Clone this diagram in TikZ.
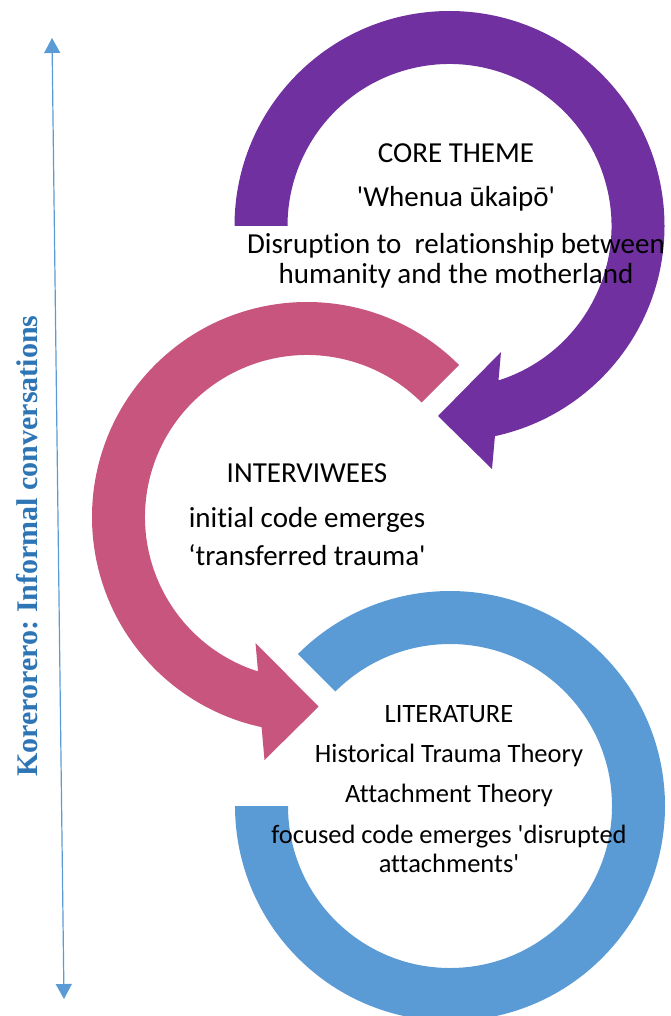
\documentclass[tikz,border=0pt]{standalone}
\usepackage{fontspec}
\newfontfamily\bodyfont{Carlito}[Ligatures={NoCommon}]
\newfontfamily\axisfont{Liberation Serif}
\usetikzlibrary{arrows.meta}
\definecolor{corepurple}{RGB}{112,48,160}
\definecolor{interpink}{RGB}{200,85,126}
\definecolor{litblue}{RGB}{91,155,213}
\definecolor{axisblue}{RGB}{46,117,182}

\begin{document}
\begin{tikzpicture}[x=1pt,y=1pt,line join=round,
  txt/.style={anchor=base,inner sep=0pt,font=\bodyfont\fontsize{29}{30}\selectfont},
  littxt/.style={anchor=base,inner sep=0pt,font=\bodyfont\fontsize{26.5}{27}\selectfont}]
  \useasboundingbox (0,0) rectangle (670,-1016);
  \coordinate (P) at (449.5,-226);
  \coordinate (K) at (307,-517);
  \coordinate (B) at (450,-806);
  \fill[corepurple] ([shift={(180:215)}]P) arc[start angle=180,end angle=-77.8,radius=215]
    -- (492,-469) -- (438,-416) -- (501,-352) -- ([shift={(-72.4:162)}]P)
    arc[start angle=-72.4,end angle=180,radius=162] -- cycle;
  \fill[interpink] ([shift={(45:215)}]K) arc[start angle=45,end angle=257.8,radius=215]
    -- (264.5,-760) -- (318.6,-706.6) -- (255.5,-643) -- ([shift={(252.4:162)}]K)
    arc[start angle=252.4,end angle=45,radius=162] -- cycle;
  \fill[litblue] ([shift={(135:215)}]B) arc[start angle=135,end angle=-180,radius=215]
    -- ([shift={(180:162)}]B) arc[start angle=-180,end angle=135,radius=162] -- cycle;
  \coordinate (axtop) at (52,-38);
  \coordinate (axbot) at (64,-999);
  \draw[litblue,line width=1.2pt,{Triangle[width=16pt,length=15pt]}-{Triangle[width=16pt,length=15pt]}] (axtop) -- (axbot);
  \node[rotate=90,inner sep=0pt,text=axisblue,font=\axisfont\bfseries\fontsize{30}{31}\selectfont] (convo) at (27,-546) {Korerorero:\ Informal conversations};
  \node[txt] (core) at (456,-163) {CORE THEME};
  \node[txt] (whenua) at (456,-207) {'Whenua ūkaipō'};
  \node[txt] (disrupt) at (456,-253) {Disruption to~ relationship between};
  \node[txt] (human) at (456,-283) {humanity and the motherland};
  \node[txt] (interv) at (307,-482) {INTERVIWEES};
  \node[txt] (initial) at (307,-527) {initial code emerges};
  \node[txt] (transf) at (307,-565) {‘transferred trauma'};
  \node[littxt] (lit) at (449,-722) {LITERATURE};
  \node[littxt] (hist) at (449,-762) {Historical Trauma Theory};
  \node[littxt] (attach) at (449,-802) {Attachment Theory};
  \node[littxt] (focus) at (449,-843) {focused code emerges 'disrupted};
  \node[littxt] (attachs) at (449,-872) {attachments'};
\end{tikzpicture}
\end{document}
